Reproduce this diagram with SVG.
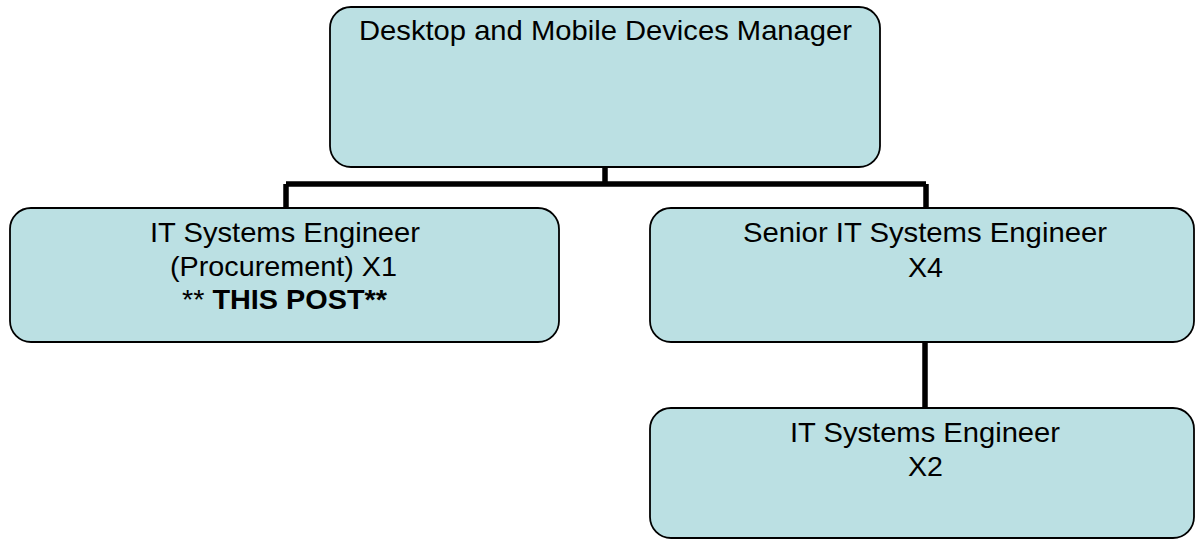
<svg xmlns="http://www.w3.org/2000/svg" width="1195" height="539" viewBox="0 0 1195 539">
<style>
.box{fill:#bbe0e3;stroke:#000;stroke-width:1.8}
.t{font-family:"Liberation Sans",Arial,sans-serif;font-size:28px;fill:#000;text-anchor:middle}
.b{font-weight:bold}
.c{fill:none;stroke:#000;stroke-width:5.5}
</style>
<rect width="1195" height="539" fill="#fff"/>
<g id="connectors">
<path class="c" d="M605 167V184M286 184H926M286 184V208M926 184V208M925 342V408"/>
</g>
<g id="manager">
<rect class="box" x="330" y="7" width="550" height="160" rx="21"/>
<text class="t" x="605.5" y="40" textLength="493" lengthAdjust="spacingAndGlyphs">Desktop and Mobile Devices Manager</text>
</g>
<g id="procurement">
<rect class="box" x="10" y="208" width="549" height="134" rx="21"/>
<text class="t" x="285" y="242" textLength="270" lengthAdjust="spacingAndGlyphs">IT Systems Engineer</text>
<text class="t" x="283.5" y="276" textLength="227" lengthAdjust="spacingAndGlyphs">(Procurement) X1</text>
<text class="t" x="284.5" y="309" textLength="205" lengthAdjust="spacingAndGlyphs">** <tspan class="b">THIS POST**</tspan></text>
</g>
<g id="senior">
<rect class="box" x="650" y="208" width="544" height="134" rx="21"/>
<text class="t" x="925" y="242" textLength="364" lengthAdjust="spacingAndGlyphs">Senior IT Systems Engineer</text>
<text class="t" x="925.5" y="277" textLength="35" lengthAdjust="spacingAndGlyphs">X4</text>
</g>
<g id="engineer">
<rect class="box" x="650" y="408" width="544" height="130" rx="21"/>
<text class="t" x="925" y="442" textLength="270" lengthAdjust="spacingAndGlyphs">IT Systems Engineer</text>
<text class="t" x="925.5" y="476" textLength="35" lengthAdjust="spacingAndGlyphs">X2</text>
</g>
</svg>
